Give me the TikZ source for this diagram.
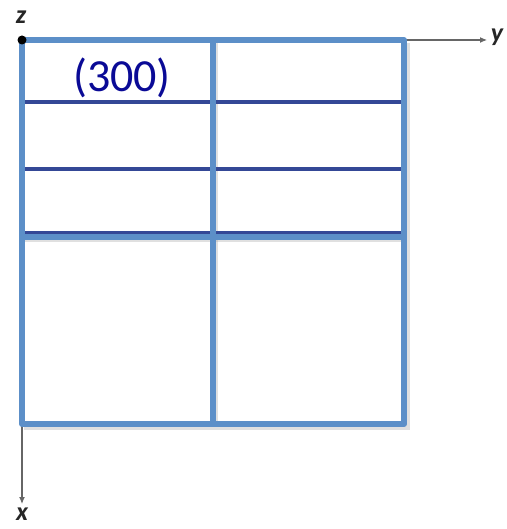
\documentclass[tikz,border=0pt]{standalone}
\usepackage{fontspec}
\setmainfont{Carlito}
\usetikzlibrary{arrows.meta}
\definecolor{frameblue}{RGB}{92,143,200}
\definecolor{planeblue}{RGB}{52,72,150}
\definecolor{labelnavy}{RGB}{10,10,150}
\tikzset{
  framel/.style={draw=frameblue, line width=6pt},
  planel/.style={draw=planeblue, line width=4.5pt},
  shadowl/.style={draw=black!35, line width=6pt, opacity=0.35},
  axisl/.style={draw=black!60, line width=1.1pt, -{Latex[length=7pt,width=6pt]}},
  axlabel/.style={font=\fontsize{26}{26}\selectfont\bfseries\itshape, text=black!85, inner sep=0pt}
}
\begin{document}
\begin{tikzpicture}[x=1pt,y=-1pt]
\useasboundingbox (0,0) rectangle (506,529);
% coordinates
\coordinate (O) at (22,40);
\coordinate (TR) at (404,40);
\coordinate (BL) at (22,424);
\coordinate (BR) at (404,424);
\coordinate (MT) at (213,40);
\coordinate (MB) at (213,424);
\coordinate (Yend) at (487,40);
\coordinate (Xend) at (22,504);
% axes
\draw[axisl] (TR) -- (Yend);
\draw[axisl] (BL) -- (Xend);
% shadows
\draw[shadowl] (24,239) -- (406,239);
\draw[shadowl] (215,43) -- (215,427);
\draw[shadowl] (24,427) -- (407,427) -- (407,43);
% planes
\draw[planel] (22,102) -- (404,102);
\draw[planel] (22,169) -- (404,169);
\draw[planel] (22,233) -- (404,233);
\draw[framel] (22,236.5) -- (404,236.5);
\draw[framel] (MT) -- (MB);
\draw[framel, line join=round] (O) rectangle (BR);
% origin dot
\fill[black] (O) circle (4.5pt);
% labels
\node[axlabel] (zl) at (21,17) {z};
\node[axlabel] (yl) at (497,37) {y};
\node[axlabel] (xl) at (22,514) {x};
\node[font=\fontsize{46}{46}\selectfont, text=labelnavy, inner sep=0pt] (lab) at (122,78) {(300)};
\end{tikzpicture}
\end{document}
